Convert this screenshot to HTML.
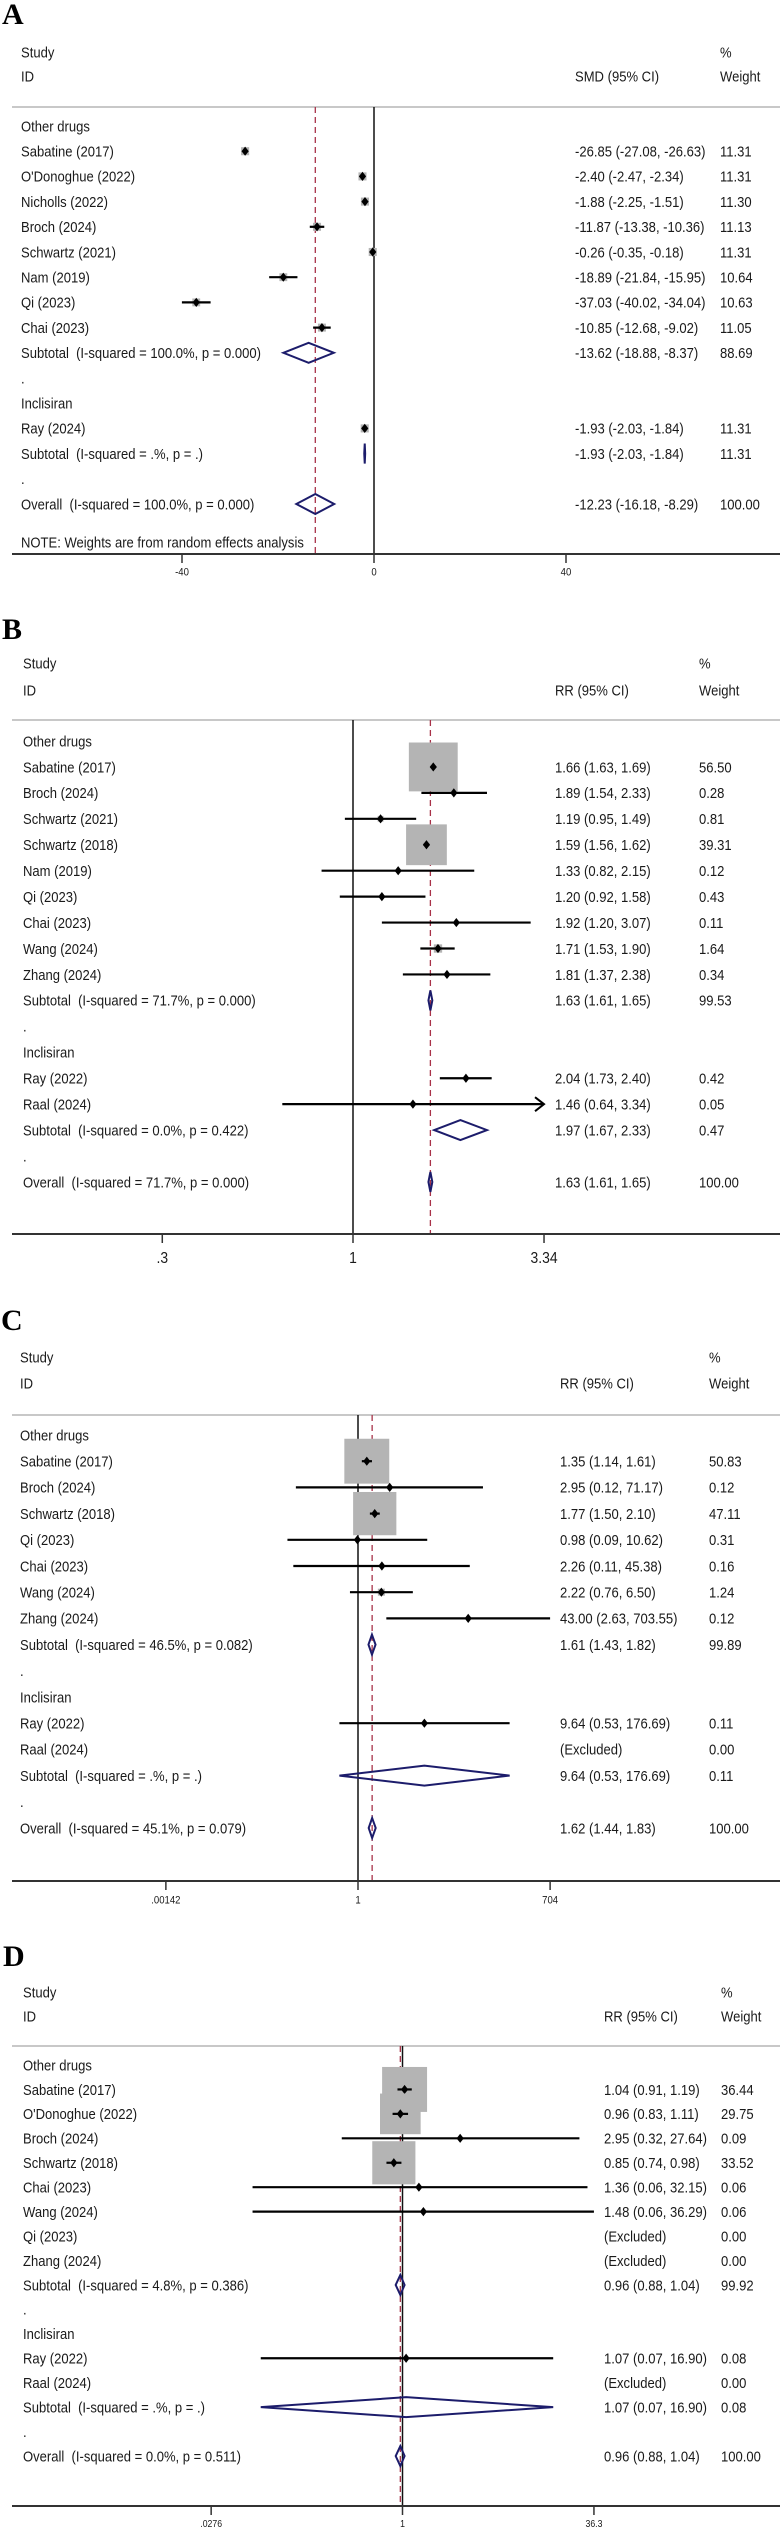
<!DOCTYPE html>
<html><head><meta charset="utf-8">
<style>
html,body{margin:0;padding:0;background:#fff;}
svg{display:block;}
text{font-family:"Liberation Sans",sans-serif;fill:#1a1a1a;white-space:pre;}
.let{font-family:"Liberation Serif",serif;font-weight:bold;fill:#000;}
</style></head>
<body>
<svg id="fig" width="780" height="2530" viewBox="0 0 780 2530"></svg>
<script>
// ---------- Panel A data (SMD) ----------
const aKinds=['g','s','s','s','s','s','s','s','s','sub','d','g','s','sub','d','o'];
const aLabels=['Other drugs','Sabatine (2017)',"O'Donoghue (2022)",'Nicholls (2022)','Broch (2024)','Schwartz (2021)','Nam (2019)','Qi (2023)','Chai (2023)','Subtotal  (I-squared = 100.0%, p = 0.000)','.','Inclisiran','Ray (2024)','Subtotal  (I-squared = .%, p = .)','.','Overall  (I-squared = 100.0%, p = 0.000)'];
const aEst=[null,-26.85,-2.40,-1.88,-11.87,-0.26,-18.89,-37.03,-10.85,-13.62,null,null,-1.93,-1.93,null,-12.23];
const aLo=[null,-27.08,-2.47,-2.25,-13.38,-0.35,-21.84,-40.02,-12.68,-18.88,null,null,-2.03,-2.03,null,-16.18];
const aHi=[null,-26.63,-2.34,-1.51,-10.36,-0.18,-15.95,-34.04,-9.02,-8.37,null,null,-1.84,-1.84,null,-8.29];
const aW=[null,11.31,11.31,11.30,11.13,11.31,10.64,10.63,11.05,88.69,null,null,11.31,11.31,null,100.00];
const aTicks=[-40,0,40];
const aTickLabels=['-40','0','40'];

// ---------- Panel B data (RR) ----------
const bKinds=['g','s','s','s','s','s','s','s','s','s','sub','d','g','s','s','sub','d','o'];
const bLabels=['Other drugs','Sabatine (2017)','Broch (2024)','Schwartz (2021)','Schwartz (2018)','Nam (2019)','Qi (2023)','Chai (2023)','Wang (2024)','Zhang (2024)','Subtotal  (I-squared = 71.7%, p = 0.000)','.','Inclisiran','Ray (2022)','Raal (2024)','Subtotal  (I-squared = 0.0%, p = 0.422)','.','Overall  (I-squared = 71.7%, p = 0.000)'];
const bEst=[null,1.66,1.89,1.19,1.59,1.33,1.20,1.92,1.71,1.81,1.63,null,null,2.04,1.46,1.97,null,1.63];
const bLo=[null,1.63,1.54,0.95,1.56,0.82,0.92,1.20,1.53,1.37,1.61,null,null,1.73,0.64,1.67,null,1.61];
const bHi=[null,1.69,2.33,1.49,1.62,2.15,1.58,3.07,1.90,2.38,1.65,null,null,2.40,3.34,2.33,null,1.65];
const bW=[null,56.50,0.28,0.81,39.31,0.12,0.43,0.11,1.64,0.34,99.53,null,null,0.42,0.05,0.47,null,100.00];
const bTicks=[0.3,1,3.34];
const bTickLabels=['.3','1','3.34'];

// ---------- Panel C data (RR) ----------
const cKinds=['g','s','s','s','s','s','s','s','sub','d','g','s','x','sub','d','o'];
const cLabels=['Other drugs','Sabatine (2017)','Broch (2024)','Schwartz (2018)','Qi (2023)','Chai (2023)','Wang (2024)','Zhang (2024)','Subtotal  (I-squared = 46.5%, p = 0.082)','.','Inclisiran','Ray (2022)','Raal (2024)','Subtotal  (I-squared = .%, p = .)','.','Overall  (I-squared = 45.1%, p = 0.079)'];
const cEst=[null,1.35,2.95,1.77,0.98,2.26,2.22,43.00,1.61,null,null,9.64,null,9.64,null,1.62];
const cLo=[null,1.14,0.12,1.50,0.09,0.11,0.76,2.63,1.43,null,null,0.53,null,0.53,null,1.44];
const cHi=[null,1.61,71.17,2.10,10.62,45.38,6.50,703.55,1.82,null,null,176.69,null,176.69,null,1.83];
const cW=[null,50.83,0.12,47.11,0.31,0.16,1.24,0.12,99.89,null,null,0.11,0.00,0.11,null,100.00];
const cTicks=[0.00142,1,704];
const cTickLabels=['.00142','1','704'];

// ---------- Panel D data (RR) ----------
const dKinds=['g','s','s','s','s','s','s','x','x','sub','d','g','s','x','sub','d','o'];
const dLabels=['Other drugs','Sabatine (2017)',"O'Donoghue (2022)",'Broch (2024)','Schwartz (2018)','Chai (2023)','Wang (2024)','Qi (2023)','Zhang (2024)','Subtotal  (I-squared = 4.8%, p = 0.386)','.','Inclisiran','Ray (2022)','Raal (2024)','Subtotal  (I-squared = .%, p = .)','.','Overall  (I-squared = 0.0%, p = 0.511)'];
const dEst=[null,1.04,0.96,2.95,0.85,1.36,1.48,null,null,0.96,null,null,1.07,null,1.07,null,0.96];
const dLo=[null,0.91,0.83,0.32,0.74,0.06,0.06,null,null,0.88,null,null,0.07,null,0.07,null,0.88];
const dHi=[null,1.19,1.11,27.64,0.98,32.15,36.29,null,null,1.04,null,null,16.90,null,16.90,null,1.04];
const dW=[null,36.44,29.75,0.09,33.52,0.06,0.06,0.00,0.00,99.92,null,null,0.08,0.00,0.08,null,100.00];
const dTicks=[0.0276,1,36.3];
const dTickLabels=['.0276','1','36.3'];

const NS='http://www.w3.org/2000/svg';
const svg=document.getElementById('fig');
function mk(tag,attrs,parent){const e=document.createElementNS(NS,tag);for(const k in attrs)e.setAttribute(k,attrs[k]);(parent||svg).appendChild(e);return e;}
function txt(x,y,s,size,parent,anchor){
  const t=mk('text',{x:0,y:0,'font-size':size,'dominant-baseline':'central','text-anchor':anchor||'start',transform:'translate('+x+','+y+') scale(0.87,1)'},parent);
  t.textContent=s;return t;
}
function f2(v){return v.toFixed(2);}

function drawPanel(P){
  const g=mk('g',{});
  
  
  const L=mk('text',{x:P.letterX,y:P.letterY,'font-size':30,class:'let'},g);
  L.textContent=P.letter;
  
  
  let t=txt(P.labX,P.studyY,'Study',15,g);
  
  
  t=txt(P.labX,P.idY,'ID',15,g);
  
  
  t=txt(P.estX,P.idY,P.measure,15,g);
  
  
  t=txt(P.wX,P.studyY,'%',15,g);
  
  
  t=txt(P.wX,P.idY,'Weight',15,g);
  
  
  const hl=mk('line',{x1:12,x2:780,y1:P.lineY,y2:P.lineY,stroke:'#c8c8c8','stroke-width':2},g);
  
  
  // null line
  const nx=P.sx(P.nullV);
  const nl=mk('line',{x1:nx,x2:nx,y1:P.lineY,y2:P.axisY,stroke:'#111','stroke-width':1.5},g);
  
  
  // overall dashed
  const oi=P.kinds.length-1;
  const ox=P.sx(P.est[oi]);
  const dl=mk('line',{x1:ox,x2:ox,y1:P.lineY,y2:P.axisY,stroke:'#a83248','stroke-width':1.3,'stroke-dasharray':'6,4'},g);
  
  
  // axis
  const ax=mk('line',{x1:12,x2:780,y1:P.axisY,y2:P.axisY,stroke:'#333','stroke-width':2},g);
  
  
  P.ticks.forEach((v,i)=>{
    const x=P.sx(v);
    const tk=mk('line',{x1:x,x2:x,y1:P.axisY,y2:P.axisY+9,stroke:'#333','stroke-width':1.5},g);
    
    
    const tl=txt(x,P.tickY,P.tickLabels[i],P.tickSize,g,'middle');
    
    
  });
  const maxV=P.ticks[P.ticks.length-1];
  P.kinds.forEach((k,i)=>{
    const y=P.firstY+i*P.dy;
    const lab=txt(P.labX,y,P.labels[i],15,g);
    
    
    if(k==='g'||k==='d')return;
    if(k==='x'){
      let e=txt(P.estX,y,'(Excluded)',15,g);
      
      
      e=txt(P.wX,y,f2(P.w[i]),15,g);
      
      
      return;
    }
    const ci=txt(P.estX,y,f2(P.est[i])+' ('+f2(P.lo[i])+', '+f2(P.hi[i])+')',15,g);
    
    
    const wt=txt(P.wX,y,f2(P.w[i]),15,g);
    
    
    const xe=P.sx(P.est[i]),xl=P.sx(P.lo[i]),xh=P.sx(Math.min(P.hi[i],maxV));
    if(k==='s'){
      const s=P.boxK*Math.sqrt(P.w[i]);
      const bx=mk('rect',{x:xe-s/2,y:y-s/2,width:s,height:s,fill:'#b4b4b4'},g);
      
      
      const cl=mk('line',{x1:xl,x2:xh,y1:y,y2:y,stroke:'#000','stroke-width':2.2},g);
      
      
      if(P.hi[i]>=maxV){
        const ar=mk('polyline',{points:(xh-9)+','+(y-7)+' '+xh+','+y+' '+(xh-9)+','+(y+7),fill:'none',stroke:'#000','stroke-width':2},g);
        
        
      }
      const d=3.6;
      const pt=mk('polygon',{points:(xe-d)+','+y+' '+xe+','+(y-d-1)+' '+(xe+d)+','+y+' '+xe+','+(y+d+1),fill:'#000'},g);
      
      
    }else{
      const h=10;
      const dm=mk('polygon',{points:xl+','+y+' '+xe+','+(y-h)+' '+xh+','+y+' '+xe+','+(y+h),fill:'none',stroke:'#1c1c6b','stroke-width':2},g);
      
      
    }
  });
  if(P.note){
    const n=txt(P.labX,P.noteY,P.note,15,g);
    
    
  }
}

drawPanel({name:'panel-a',letter:'A',letterX:2,letterY:24,labX:21,estX:575,wX:720,measure:'SMD (95% CI)',
  studyY:52,idY:76,lineY:107,axisY:554,tickY:573,tickSize:11,firstY:126,dy:25.2,boxK:2.4,nullV:0,
  sx:v=>374+4.8*v,kinds:aKinds,labels:aLabels,est:aEst,lo:aLo,hi:aHi,w:aW,ticks:aTicks,tickLabels:aTickLabels,
  note:'NOTE: Weights are from random effects analysis',noteY:542});
drawPanel({name:'panel-b',letter:'B',letterX:2,letterY:639,labX:23,estX:555,wX:699,measure:'RR (95% CI)',
  studyY:663,idY:690,lineY:720,axisY:1234,tickY:1258,tickSize:16,firstY:741,dy:25.94,boxK:6.5,nullV:1,
  sx:v=>353+158.4*Math.log(v),kinds:bKinds,labels:bLabels,est:bEst,lo:bLo,hi:bHi,w:bW,ticks:bTicks,tickLabels:bTickLabels});
drawPanel({name:'panel-c',letter:'C',letterX:1,letterY:1330,labX:20,estX:560,wX:709,measure:'RR (95% CI)',
  studyY:1357,idY:1383,lineY:1415,axisY:1881,tickY:1901,tickSize:11,firstY:1435,dy:26.2,boxK:6.3,nullV:1,
  sx:v=>358+29.3*Math.log(v),kinds:cKinds,labels:cLabels,est:cEst,lo:cLo,hi:cHi,w:cW,ticks:cTicks,tickLabels:cTickLabels});
drawPanel({name:'panel-d',letter:'D',letterX:3,letterY:1966,labX:23,estX:604,wX:721,measure:'RR (95% CI)',
  studyY:1992,idY:2016,lineY:2046,axisY:2506,tickY:2524,tickSize:10,firstY:2065,dy:24.44,boxK:7.45,nullV:1,
  sx:v=>402.5+53.3*Math.log(v),kinds:dKinds,labels:dLabels,est:dEst,lo:dLo,hi:dHi,w:dW,ticks:dTicks,tickLabels:dTickLabels});
</script>
</body></html>
